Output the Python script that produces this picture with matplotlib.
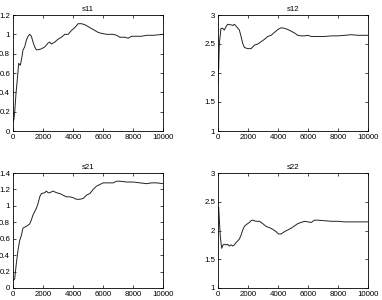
import matplotlib
matplotlib.use('Agg')
import matplotlib.pyplot as plt
from matplotlib.ticker import FormatStrFormatter

# s11 estimate
s11_x = [0, 60, 120, 200, 280, 379, 490, 579, 668, 780, 891, 1002, 1114, 1225, 1336,
         1448, 1559, 1670, 1893, 2116, 2339, 2450, 2561, 2784, 3007, 3229, 3452, 3675,
         3898, 4120, 4343, 4566, 4788, 5011, 5234, 5457, 5679, 5902, 6236, 6682, 6904,
         7127, 7461, 7684, 7906, 8241, 8575, 8909, 9354, 10000]
s11_y = [0.10, 0.12, 0.21, 0.39, 0.52, 0.70, 0.68, 0.75, 0.84, 0.87, 0.94, 0.98, 1.00,
         0.98, 0.92, 0.87, 0.84, 0.84, 0.85, 0.87, 0.91, 0.92, 0.90, 0.92, 0.95, 0.97,
         1.00, 1.00, 1.04, 1.07, 1.11, 1.11, 1.10, 1.08, 1.06, 1.04, 1.02, 1.01, 1.00,
         1.00, 0.99, 0.97, 0.97, 0.96, 0.98, 0.98, 0.98, 0.99, 0.99, 1.00]

# s12 estimate
s12_x = [0, 20, 40, 89, 200, 312, 423, 535, 646, 869, 980, 1091, 1203, 1425, 1537,
         1648, 1759, 1982, 2205, 2428, 2650, 2873, 3096, 3318, 3541, 3764, 3987, 4209,
         4432, 4655, 4878, 5100, 5323, 5546, 5768, 5991, 6214, 6659, 7105, 7550, 7996,
         8441, 8886, 9332, 10000]
s12_y = [1.82, 2.10, 2.05, 2.51, 2.77, 2.77, 2.74, 2.80, 2.84, 2.83, 2.82, 2.84, 2.81,
         2.74, 2.63, 2.51, 2.44, 2.42, 2.42, 2.48, 2.50, 2.54, 2.58, 2.63, 2.65, 2.70,
         2.75, 2.78, 2.77, 2.75, 2.72, 2.69, 2.65, 2.64, 2.64, 2.65, 2.63, 2.63, 2.63,
         2.64, 2.64, 2.65, 2.66, 2.65, 2.65]

# s21 estimate
s21_x = [0, 111, 223, 334, 445, 557, 668, 891, 1114, 1225, 1336, 1559, 1670, 1782, 1893,
         2116, 2227, 2339, 2450, 2673, 2895, 3118, 3341, 3563, 3786, 4009, 4232, 4454,
         4677, 4900, 5122, 5345, 5568, 5791, 6013, 6236, 6459, 6682, 6904, 7127, 7572,
         8018, 8463, 8909, 9243, 9577, 10000]
s21_y = [0.09, 0.11, 0.30, 0.46, 0.58, 0.64, 0.73, 0.75, 0.78, 0.83, 0.89, 0.97, 1.03,
         1.11, 1.15, 1.16, 1.18, 1.16, 1.16, 1.18, 1.16, 1.15, 1.13, 1.11, 1.11, 1.10,
         1.08, 1.08, 1.09, 1.13, 1.15, 1.20, 1.24, 1.26, 1.28, 1.28, 1.28, 1.28, 1.30,
         1.30, 1.29, 1.29, 1.28, 1.27, 1.28, 1.28, 1.27]

# s22 estimate
s22_x = [0, 45, 89, 156, 245, 334, 423, 535, 646, 757, 869, 980, 1091, 1203, 1314, 1425,
         1537, 1648, 1759, 1871, 1982, 2094, 2205, 2316, 2539, 2762, 2984, 3207, 3430,
         3653, 3875, 4031, 4209, 4432, 4655, 4878, 5100, 5323, 5546, 5768, 5991, 6214,
         6437, 6659, 7105, 7550, 7996, 8441, 8886, 10000]
s22_y = [2.39, 2.41, 2.19, 1.89, 1.69, 1.75, 1.76, 1.75, 1.76, 1.73, 1.75, 1.73, 1.75,
         1.79, 1.82, 1.85, 1.92, 2.01, 2.07, 2.10, 2.12, 2.14, 2.17, 2.18, 2.16, 2.16,
         2.12, 2.07, 2.05, 2.02, 1.98, 1.94, 1.94, 1.98, 2.01, 2.04, 2.08, 2.12, 2.14,
         2.16, 2.15, 2.14, 2.18, 2.18, 2.17, 2.16, 2.16, 2.15, 2.15, 2.15]

titles = ['s11', 's12', 's21', 's22']
xs = [s11_x, s12_x, s21_x, s22_x]
ys = [s11_y, s12_y, s21_y, s22_y]
ylims = [(0, 1.2), (1, 3), (0, 1.4), (1, 3)]
ysteps = [0.2, 0.5, 0.2, 0.5]
xticks = [0, 2000, 4000, 6000, 8000, 10000]

plt.rcParams['font.family'] = 'Liberation Sans'
plt.rcParams['font.size'] = 5.7

fig = plt.figure(figsize=(3.82, 3.0), dpi=100)
positions = [
    [13 / 382, 169 / 300, 150 / 382, 116 / 300],
    [218 / 382, 169 / 300, 150 / 382, 116 / 300],
    [13 / 382, 12 / 300, 150 / 382, 115 / 300],
    [218 / 382, 12 / 300, 150 / 382, 115 / 300],
]

for i in range(4):
    ax = fig.add_axes(positions[i])
    ax.plot(xs[i], ys[i], color='#222222', lw=0.7)
    ax.set_xlim(0, 10000)
    lo, hi = ylims[i]
    ax.set_ylim(lo, hi)
    n = int(round((hi - lo) / ysteps[i]))
    ax.set_yticks([lo + k * ysteps[i] for k in range(n + 1)])
    ax.set_xticks(xticks)
    ax.yaxis.set_major_formatter(FormatStrFormatter('%g'))
    ax.tick_params(direction='in', length=2, width=0.5, pad=2,
                   top=True, right=True, labelsize=5.7)
    for sp in ax.spines.values():
        sp.set_linewidth(0.6)
    ax.set_title(titles[i], fontsize=5.7, pad=3)

fig.savefig('out.png', dpi=100)
